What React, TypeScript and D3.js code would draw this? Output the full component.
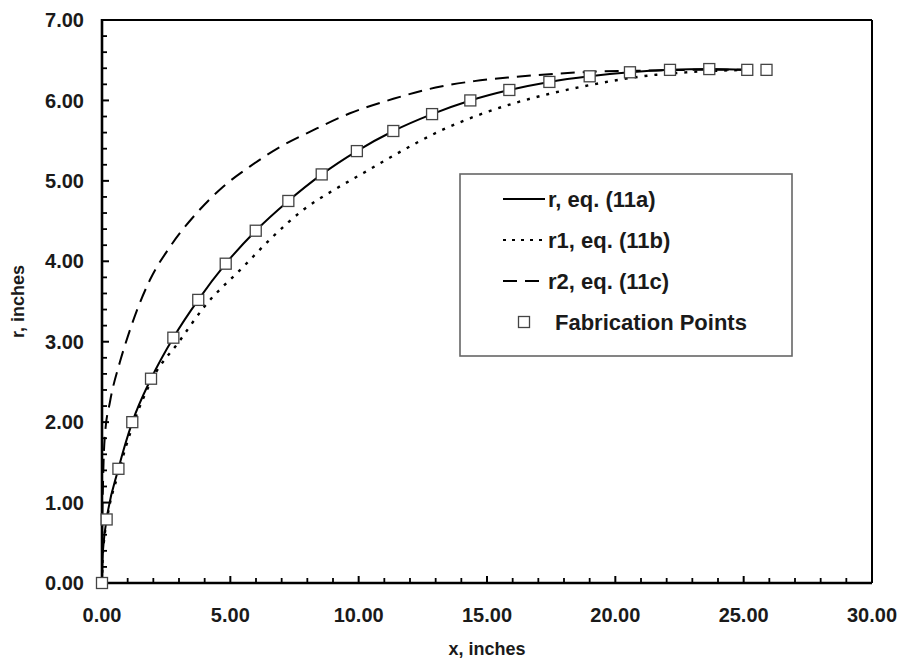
import React from "react";
import * as d3 from "d3";

const fabX = [0, 0.18, 0.64, 1.18, 1.91, 2.78, 3.75, 4.82, 5.99, 7.26, 8.56, 9.93, 11.35, 12.86, 14.35, 15.87, 17.43, 19.0, 20.57, 22.13, 23.66, 25.14, 25.89];
const fabY = [0, 0.79, 1.42, 2.0, 2.54, 3.05, 3.52, 3.97, 4.38, 4.75, 5.08, 5.37, 5.62, 5.83, 6.0, 6.13, 6.23, 6.3, 6.35, 6.38, 6.39, 6.38, 6.38];

const rX = [0, 0.02, 0.07, 0.18, 0.64, 1.18, 1.91, 2.78, 3.75, 4.82, 5.99, 7.26, 8.56, 9.93, 11.35, 12.86, 14.35, 15.87, 17.43, 19.0, 20.57, 22.13, 23.66, 25.14];
const rY = [0, 0.3, 0.52, 0.79, 1.42, 2.0, 2.54, 3.05, 3.52, 3.97, 4.38, 4.75, 5.08, 5.37, 5.62, 5.83, 6.0, 6.13, 6.23, 6.3, 6.35, 6.38, 6.39, 6.38];

const r1X = [0, 0.02, 0.07, 0.18, 0.65, 1.2, 2.0, 3.0, 4.0, 5.5, 6.67, 7.84, 9.0, 10.2, 11.5, 13.17, 14.6, 16.0, 17.4, 19.0, 20.2, 21.6, 22.8, 24.0, 25.4];
const r1Y = [0, 0.28, 0.5, 0.76, 1.38, 1.96, 2.56, 3.0, 3.44, 3.93, 4.31, 4.64, 4.88, 5.1, 5.34, 5.62, 5.81, 5.96, 6.08, 6.19, 6.26, 6.32, 6.35, 6.37, 6.38];

const r2X = [0, 0.01, 0.04, 0.12, 0.31, 0.7, 1.0, 1.35, 1.87, 2.65, 3.69, 4.73, 5.77, 6.93, 8.23, 9.66, 11.35, 13.0, 14.5, 16.0, 17.6, 19.3, 21.0, 23.0, 25.2];
const r2Y = [0, 0.7, 1.25, 1.86, 2.25, 2.75, 3.06, 3.38, 3.77, 4.18, 4.6, 4.93, 5.18, 5.42, 5.63, 5.84, 6.02, 6.16, 6.24, 6.29, 6.33, 6.36, 6.37, 6.38, 6.38];

const xTicks = [0, 5, 10, 15, 20, 25, 30];
const yTicks = [0, 1, 2, 3, 4, 5, 6, 7];
const legendLabels = ["r, eq. (11a)", "r1, eq. (11b)", "r2, eq. (11c)", "Fabrication Points"];

const FONT = "'Liberation Sans', Arial, sans-serif";

export default function App() {
  const W = 904, H = 666;
  const L = 102, R = 872, T = 20, B = 583;
  const x = d3.scaleLinear().domain([0, 30]).range([L, R]);
  const y = d3.scaleLinear().domain([0, 7]).range([B, T]);
  const line = d3.line<[number, number]>().x(d => x(d[0])).y(d => y(d[1])).curve(d3.curveMonotoneX);
  const zip = (a: number[], b: number[]) => a.map((v, i) => [v, b[i]] as [number, number]);

  const xMinor = d3.range(1, 30, 1).filter(v => v % 5 !== 0);
  const yMinor = d3.range(0.2, 7, 0.2).filter(v => Math.abs(v - Math.round(v)) > 0.01);

  const legY = [199, 240, 281, 322];
  const legStyles = [
    { dash: "none" },
    { dash: "3,6" },
    { dash: "14,8" },
  ];

  return (
    <svg width={W} height={H} style={{ position: "absolute", left: 0, top: 0, background: "#fff" }} fontFamily={FONT}>
      <rect x={0} y={0} width={W} height={H} fill="#fff" />
      {/* curves */}
      <path d={line(zip(r1X, r1Y)) || ""} fill="none" stroke="#000" strokeWidth={2.4} strokeDasharray="3,7" />
      <path d={line(zip(r2X, r2Y)) || ""} fill="none" stroke="#000" strokeWidth={2} strokeDasharray="14,8" />
      <path d={line(zip(rX, rY)) || ""} fill="none" stroke="#000" strokeWidth={2} />
      {/* frame */}
      <line x1={L} x2={R} y1={T} y2={T} stroke="#000" strokeWidth={2} />
      <line x1={R} x2={R} y1={T} y2={B} stroke="#000" strokeWidth={2} />
      <line x1={L} x2={L} y1={T - 1} y2={B + 1} stroke="#000" strokeWidth={2.6} />
      <line x1={L - 1} x2={R} y1={B} y2={B} stroke="#000" strokeWidth={2.6} />
      {/* ticks */}
      {xMinor.map(v => <line key={"xm" + v} x1={x(v)} x2={x(v)} y1={B} y2={B - 5} stroke="#000" strokeWidth={1.8} />)}
      {xTicks.map(v => <line key={"xM" + v} x1={x(v)} x2={x(v)} y1={B} y2={B - 7} stroke="#000" strokeWidth={2} />)}
      {yMinor.map(v => <line key={"ym" + v} x1={L} x2={L + 5} y1={y(v)} y2={y(v)} stroke="#000" strokeWidth={1.8} />)}
      {yTicks.map(v => <line key={"yM" + v} x1={L} x2={L + 7} y1={y(v)} y2={y(v)} stroke="#000" strokeWidth={2} />)}
      {/* tick labels */}
      {xTicks.map(v => (
        <text key={"xl" + v} x={x(v)} y={622} textAnchor="middle" fontSize={20} fontWeight="bold" fill="#1a1a1a">{v.toFixed(2)}</text>
      ))}
      {yTicks.map(v => (
        <text key={"yl" + v} x={84} y={y(v)} dy="0.36em" textAnchor="end" fontSize={20} fontWeight="bold" fill="#1a1a1a">{v.toFixed(2)}</text>
      ))}
      {/* axis titles */}
      <text x={487} y={655} textAnchor="middle" fontSize={18} fontWeight="bold" fill="#1a1a1a">x, inches</text>
      <text transform={`translate(24,${(T + B) / 2}) rotate(-90)`} textAnchor="middle" fontSize={18} fontWeight="bold" fill="#1a1a1a">r, inches</text>
      {/* fabrication points */}
      {fabX.map((v, i) => (
        <rect key={"f" + i} x={x(v) - 5.5} y={y(fabY[i]) - 5.5} width={11} height={11} fill="#fff" stroke="#444" strokeWidth={1.3} />
      ))}
      {/* legend */}
      <rect x={460} y={174} width={332} height={182} fill="#fff" stroke="#666" strokeWidth={1.6} />
      {legStyles.map((s, i) => (
        <line key={"ll" + i} x1={503} x2={545} y1={legY[i]} y2={legY[i]} stroke="#000" strokeWidth={2} strokeDasharray={s.dash} />
      ))}
      <rect x={524 - 5.5} y={legY[3] - 5.5} width={11} height={11} fill="#fff" stroke="#444" strokeWidth={1.3} />
      {legendLabels.map((t, i) => (
        <text key={"lt" + i} x={i === 3 ? 555 : 548} y={legY[i]} dy="0.36em" fontSize={22} fontWeight="bold" fill="#1a1a1a">{t}</text>
      ))}
    </svg>
  );
}
